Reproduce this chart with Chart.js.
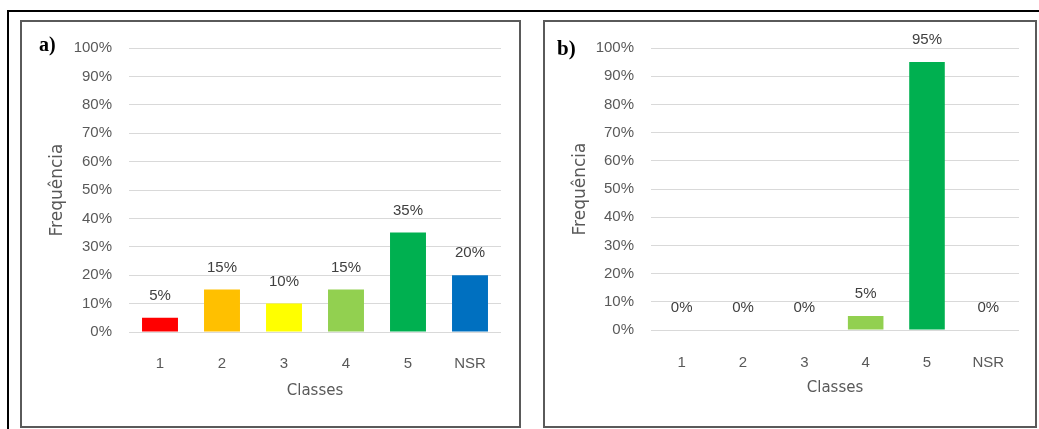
<!DOCTYPE html>
<html>
<head>
<meta charset="utf-8">
<script src="https://cdn.jsdelivr.net/npm/chart.js@4/dist/chart.umd.min.js"></script>
<style>
  html, body { margin: 0; padding: 0; background: #fff; }
  body { width: 1039px; height: 429px; position: relative; overflow: hidden; }
  #frame { position: absolute; left: 7px; top: 10px; width: 1040px; height: 430px;
           border-top: 2px solid #000; border-left: 2px solid #000; }
  .panel { position: absolute; top: 20px; height: 408px; box-sizing: border-box;
           border: 2px solid #5a5a5a; background: #fff; }
  .panel canvas { position: absolute; left: 0; top: 0; }
  .tag { position: absolute; font-family: "Liberation Serif", serif; font-weight: bold;
         color: #000; line-height: 1; }
</style>
</head>
<body>
<div id="frame"></div>
<div class="panel" style="left:20px;width:501px;">
  <canvas id="chartA" width="497" height="404"></canvas>
</div>
<div class="panel" style="left:543px;width:494px;">
  <canvas id="chartB" width="490" height="404"></canvas>
</div>
<div class="tag" style="left:39px;top:34px;font-size:20px;">a)</div>
<div class="tag" style="left:557px;top:38px;font-size:21px;">b)</div>

<script>
// ── Data ────────────────────────────────────────────────────────────────────
const classes  = ['1', '2', '3', '4', '5', 'NSR'];
const freqA    = [5, 15, 10, 15, 35, 20];   // a) frequency in %
const freqB    = [0, 0, 0, 5, 95, 0];       // b) frequency in %
const barColors = ['#FF0000', '#FFC000', '#FFFF00', '#92D050', '#00B050', '#0070C0'];

const TICK_FONT  = { family: '"Liberation Sans", Arial, sans-serif', size: 15, lineHeight: 1.2 };
const TITLE_FONT = { family: '"DejaVu Sans", sans-serif', size: 15, lineHeight: 1.2 };

// value labels above each bar
const valueLabels = {
  id: 'valueLabels',
  afterDatasetsDraw(chart) {
    const ctx  = chart.ctx;
    const ds   = chart.data.datasets[0];
    const meta = chart.getDatasetMeta(0);
    ctx.save();
    ctx.font = '15px "Liberation Sans", Arial, sans-serif';
    ctx.fillStyle = '#404040';
    ctx.textAlign = 'center';
    ctx.textBaseline = 'middle';
    meta.data.forEach((bar, i) => {
      ctx.fillText(ds.data[i] + '%', bar.x, bar.y - 22);
    });
    ctx.restore();
  }
};

function makeChart(id, values, pad, yWidth, xHeight, xTickPad, xTitlePad) {
  return new Chart(document.getElementById(id), {
    type: 'bar',
    data: {
      labels: classes,
      datasets: [{ data: values, backgroundColor: barColors, borderWidth: 0,
                   categoryPercentage: 1, barPercentage: 0.58 }]
    },
    options: {
      responsive: false,
      animation: false,
      layout: { padding: pad },
      plugins: { legend: { display: false }, tooltip: { enabled: false } },
      scales: {
        x: {
          grid: { display: false },
          border: { display: false },
          ticks: { color: '#595959', font: TICK_FONT, padding: xTickPad },
          title: { display: true, text: 'Classes', color: '#595959', font: TITLE_FONT,
                   padding: { top: 0, bottom: xTitlePad } },
          afterFit: s => { s.height = xHeight; }
        },
        y: {
          min: 0, max: 100,
          grid: { color: '#D9D9D9', lineWidth: 1, drawTicks: false },
          border: { display: false },
          ticks: { stepSize: 10, color: '#595959', font: TICK_FONT, padding: 17,
                   callback: v => v + '%' },
          title: { display: true, text: 'Frequência', color: '#595959',
                   font: { family: '"DejaVu Sans", sans-serif', size: 17, lineHeight: 1.2 },
                   padding: { top: 25.8, bottom: 0 } },
          afterFit: s => { s.width = yWidth; }
        }
      }
    },
    plugins: [valueLabels]
  });
}

makeChart('chartA', freqA, { top: 21, right: 18, left: 0, bottom: 0 }, 107, 94, 15, 26);
makeChart('chartB', freqB, { top: 21, right: 16, left: 0, bottom: 0 }, 106, 96, 15.5, 29);
</script>
</body>
</html>
